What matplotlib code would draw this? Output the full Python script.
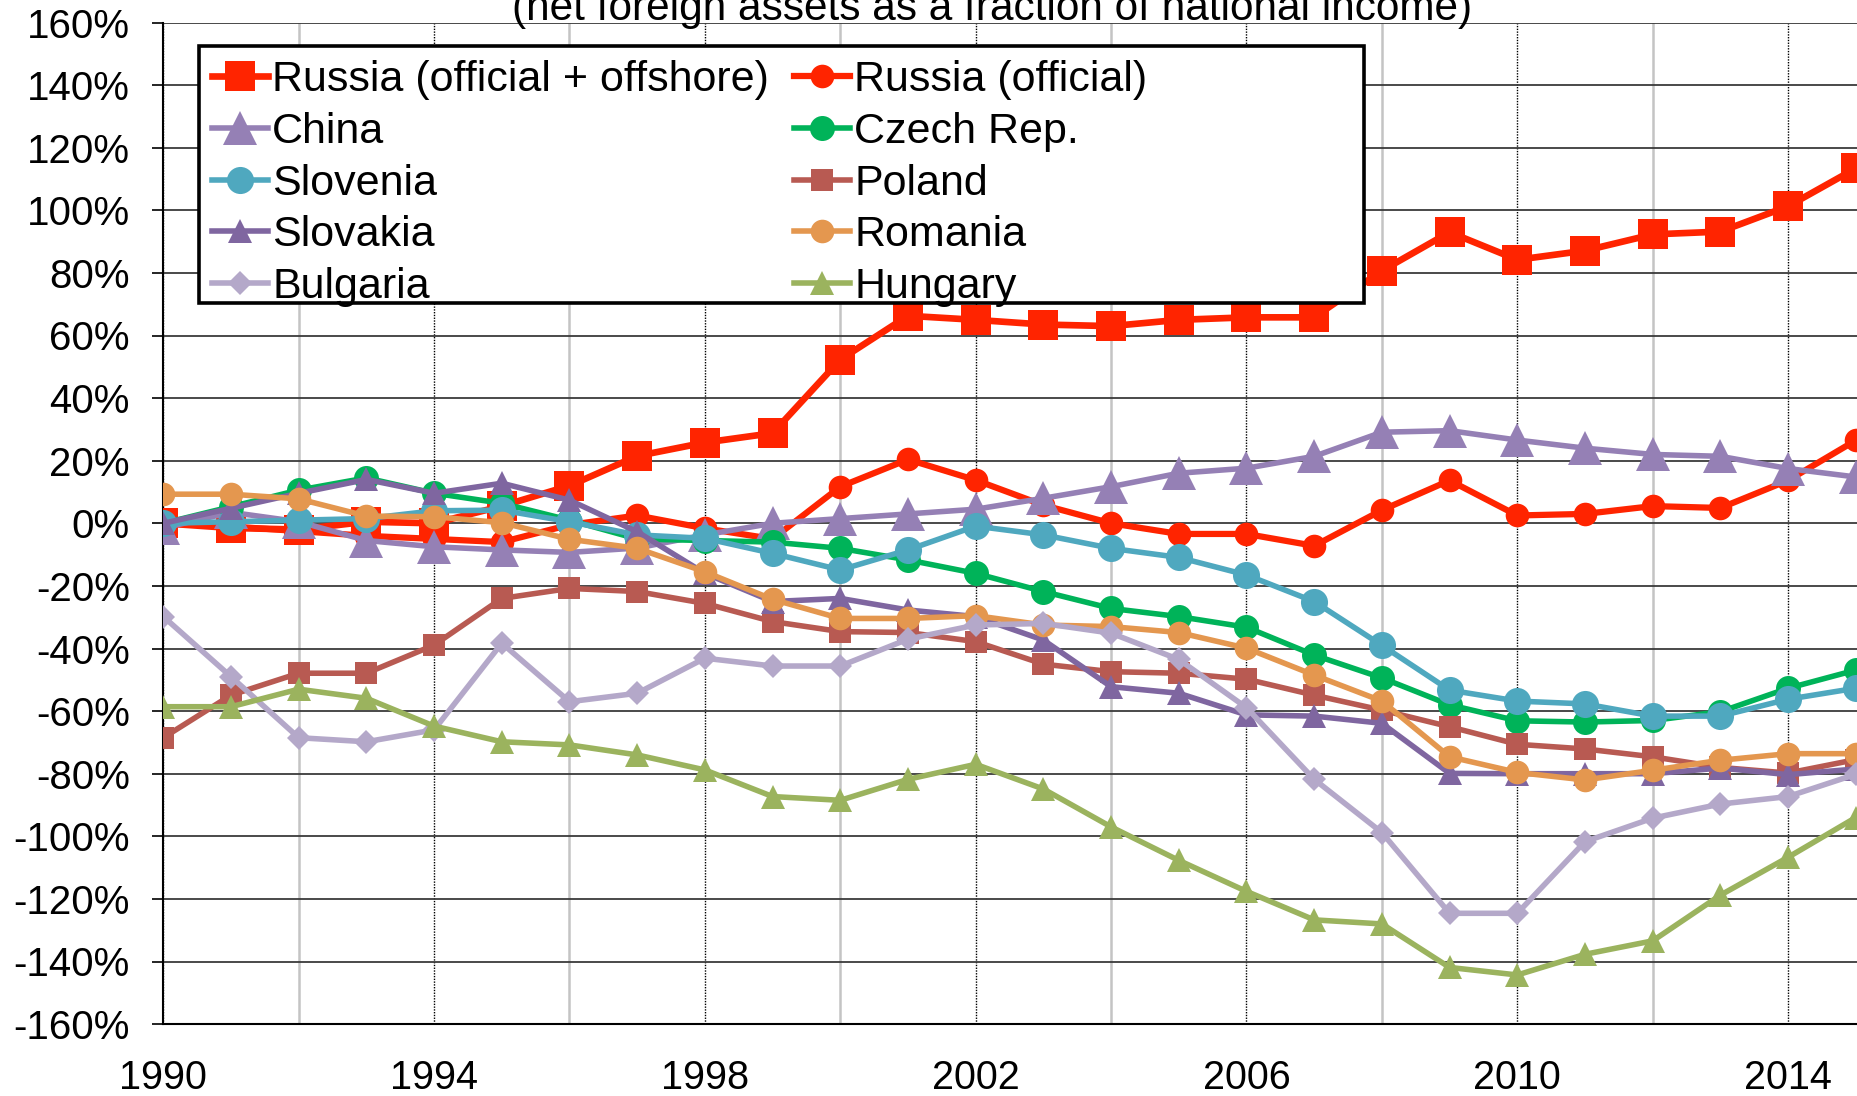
import matplotlib
matplotlib.use("Agg")
import matplotlib.pyplot as plt
from matplotlib.patches import Rectangle

years = list(range(1990, 2016))

russia_offshore = [0, -1.5, -2, 0.5, 0, 5.5, 12, 21.5, 25.8, 28.8, 52.3, 66.3, 65, 63.5, 63,
                   65, 65.8, 65.8, 80.7, 93, 84.2, 87.1, 92.3, 93.2, 101.3, 113.4]
russia_official = [0, -1, -2.5, -4, -5, -6, -0.5, 2.5, -1.6, -5, 11.7, 20.4, 13.8, 5.8, 0,
                   -3.4, -3.4, -7.2, 4.2, 13.7, 2.5, 3, 5.5, 4.9, 13.7, 26.5]
china = [-1.5, 3.5, 0.5, -5.5, -7.5, -8.5, -9.3, -7.9, -3.7, 0, 1.5, 3, 4.5, 8, 11.7,
         16, 17.6, 21.4, 29.1, 29.6, 26.6, 24, 22, 21.4, 17.5, 14.8]
czech = [0, 5.3, 10.6, 14.5, 9.6, 6.4, 1, -5, -5.5, -6, -8, -11.7, -16, -21.8, -27.2,
         -29.8, -33.2, -42.1, -49.4, -58, -63.1, -63.5, -63, -60.2, -52.7, -46.9]
slovenia = [0, 0.5, 1, 1.5, 4, 4.2, 0.5, -3.7, -4.8, -9.6, -14.9, -8.5, -0.9, -3.7, -8,
            -10.9, -16.5, -25, -39, -53.3, -56.8, -57.7, -61.6, -61.6, -56.2, -52.7]
poland = [-68.5, -54.9, -47.9, -47.9, -38.9, -24, -20.8, -21.8, -25.6, -31.4, -34.6, -34.9,
          -37.8, -45, -47.4, -47.9, -49.8, -54.9, -59.7, -65, -70.6, -72.1, -74.6, -78,
          -79.8, -75.5]
slovakia = [0, 4.8, 9.6, 14, 9.6, 12.8, 7.4, -2.7, -16, -25, -24, -27.7, -29.8, -37.3,
            -52.2, -54.3, -61.2, -61.6, -63.9, -79.9, -80, -80, -80, -78.2, -80.3, -78.5]
romania = [9.3, 9.3, 7.8, 2.3, 2.1, 0.2, -5.1, -8, -15.5, -24.3, -30.4, -30.4, -29.5,
           -32.5, -33, -34.9, -39.9, -48.5, -56.8, -74.6, -79.6, -82, -78.9, -75.7,
           -73.6, -73.6]
bulgaria = [-29.8, -49, -68.5, -69.8, -66, -38.3, -57, -54.3, -43.1, -45.6, -45.6, -37,
            -32.5, -32, -35.1, -43.5, -58.9, -81.8, -98.8, -124.6, -124.6, -101.7, -94.2,
            -89.7, -87.3, -80.2]
hungary = [-58.6, -58.6, -53, -55.9, -64.8, -69.8, -70.8, -74, -78.8, -87.3, -88.5, -81.8,
           -77, -84.9, -97, -107.7, -117.6, -126.7, -128, -141.9, -144.3, -137.7, -133.4,
           -118.8, -106.7, -94]

# label, values, color, marker, markersize, linewidth
series = [
    ("Russia (official + offshore)", russia_offshore, "#FF2400", "s", 21, 4.8),
    ("Russia (official)", russia_official, "#FF2400", "o", 17, 4.5),
    ("China", china, "#9580B5", "^", 25, 4.0),
    ("Czech Rep.", czech, "#00B359", "o", 18, 4.0),
    ("Slovenia", slovenia, "#4FA8BF", "o", 19.5, 4.0),
    ("Poland", poland, "#B85A52", "s", 16, 4.0),
    ("Slovakia", slovakia, "#7F66A0", "^", 17, 4.0),
    ("Romania", romania, "#E4974F", "o", 17, 4.0),
    ("Bulgaria", bulgaria, "#B4A8C9", "D", 12.5, 4.0),
    ("Hungary", hungary, "#9BB35E", "^", 17, 4.0),
]

plt.rcParams["font.family"] = ["Liberation Sans", "DejaVu Sans"]

fig = plt.figure(figsize=(18.57, 10.96), dpi=100)
W, H = 1857, 1096
x0_px, y_top_px, y_bot_px = 163.3, 22.5, 1024.1
ax = fig.add_axes([x0_px / W, 1 - y_bot_px / H, 1 - x0_px / W, (y_bot_px - y_top_px) / H])


def ax_x(px):
    return (px - x0_px) / (W - x0_px)


def ax_y(px):
    return (y_bot_px - px) / (y_bot_px - y_top_px)


handles = {}
for i, (label, vals, color, marker, ms, lw) in enumerate(series):
    (h,) = ax.plot(years, vals, color=color, marker=marker, markersize=ms, linewidth=lw,
                   markeredgewidth=0, label=label, zorder=3 + i)
    handles[label] = h

ax.set_xlim(1990, 1990 + (W - x0_px) / 67.7)
ax.set_ylim(-160, 160)

ax.set_xticks(range(1990, 2015, 4))
ax.set_xticks(range(1992, 2015, 4), minor=True)
ax.set_xticklabels([str(y) for y in range(1990, 2015, 4)])
ax.set_yticks(range(-160, 161, 20))
ax.set_yticklabels([f"{v}%" for v in range(-160, 161, 20)])

ax.grid(which="major", axis="y", color="#3a3a3a", linewidth=1.3, zorder=0)
ax.grid(which="major", axis="x", color="black", linestyle=(0, (1, 1)), linewidth=1.0)
ax.grid(which="minor", axis="x", color="#C4C4C4", linewidth=1.8)
ax.set_axisbelow(True)

ax.tick_params(axis="y", which="major", length=8, width=1.2, direction="out",
               labelsize=29, pad=16)
ax.tick_params(axis="x", which="both", length=0, labelsize=28.5, pad=25)

for side in ["top", "right"]:
    ax.spines[side].set_visible(False)
ax.spines["left"].set_linewidth(1.5)
ax.spines["bottom"].set_linewidth(1.5)

# legend frame drawn as its own box, Excel-style fixed size
frame = Rectangle((ax_x(199), ax_y(303)), ax_x(1364) - ax_x(199), ax_y(46) - ax_y(303),
                  transform=ax.transAxes, facecolor="white", edgecolor="black",
                  linewidth=2.6, zorder=19, clip_on=False)
ax.add_patch(frame)

# two-column legend filled row by row
order = ["Russia (official + offshore)", "China", "Slovenia", "Slovakia", "Bulgaria",
         "Russia (official)", "Czech Rep.", "Poland", "Romania", "Hungary"]
leg = ax.legend([handles[k] for k in order], order, ncol=2, loc="upper left",
                bbox_to_anchor=(ax_x(199), ax_y(47.5)),
                borderaxespad=0, fontsize=31, frameon=False,
                handlelength=1.3, handletextpad=0.1, columnspacing=0.58,
                labelspacing=0.27, borderpad=0.3)
leg.set_zorder(20)

fig.text(992 / W, 1 - 20 / H, "(net foreign assets as a fraction of national income)",
         ha="center", va="baseline", fontsize=30.5)

fig.savefig("out.png", dpi=100)
